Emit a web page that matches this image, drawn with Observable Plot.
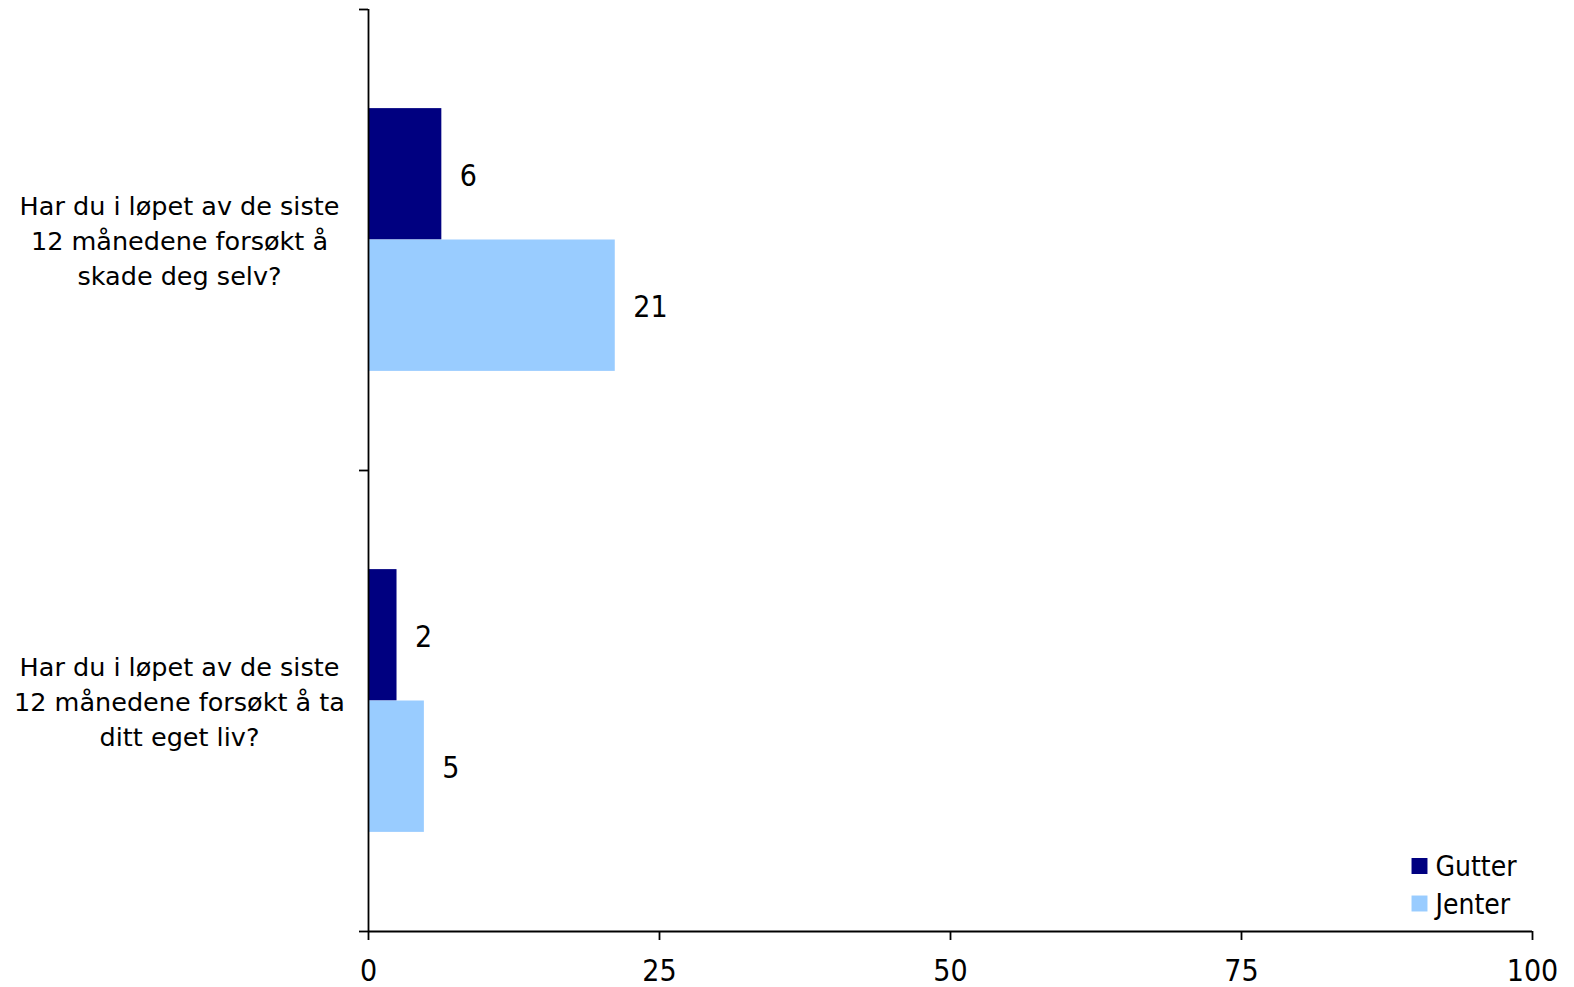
<!DOCTYPE html>
<html>
<head>
<meta charset="utf-8">
<script src="https://cdn.jsdelivr.net/npm/d3@7"></script>
<script src="https://cdn.jsdelivr.net/npm/@observablehq/plot@0.6"></script>
<style>
  html, body { margin: 0; padding: 0; background: #fff; }
  #chart svg { display: block; }
</style>
</head>
<body>
<div id="chart"></div>
<script>
// ---- data ----
const questions = [
  "Har du i løpet av de siste\n12 månedene forsøkt å\nskade deg selv?",
  "Har du i løpet av de siste\n12 månedene forsøkt å ta\nditt eget liv?"
];
const series = ["Gutter", "Jenter"];
const gutter = [6.3, 2.45];
const jenter = [21.2, 4.8];
const xTicks = [0, 25, 50, 75, 100];
const colors = ["#000080", "#99CCFF"];

// ---- table built from arrays ----
const values = [gutter, jenter];
const rows = [];
questions.forEach((q, qi) => {
  series.forEach((s, si) => {
    rows.push({question: q, qi, series: s, si, value: values[si][qi]});
  });
});
// bar layout within each category band (unit height)
const groupTop = 0.215, groupMid = 0.5, groupBot = 0.785;
const y1 = d => d.qi + (d.si === 0 ? groupTop : groupMid);
const y2 = d => d.qi + (d.si === 0 ? groupMid : groupBot);
const yc = d => (y1(d) + y2(d)) / 2;

const labelFont = "DejaVu Sans, Verdana, sans-serif";
const numFont = "'Liberation Sans Narrow', 'DejaVu Sans Condensed', sans-serif";
const legendFont = "'DejaVu Sans Condensed', sans-serif";

const legendMarks = series.flatMap((s, i) => [
  Plot.dot([s], {
    frameAnchor: "bottom-right", dx: -113, dy: -65.5 + i * 37.5,
    symbol: "square", r: 9, fill: d => d, stroke: null
  }),
  Plot.text([s], {
    frameAnchor: "bottom-right", dx: -97, dy: -64 + i * 37.5,
    text: d => d, textAnchor: "start", lineAnchor: "middle",
    fontSize: 28, fontFamily: legendFont, fill: "#000"
  })
]);

const chart = Plot.plot({
  width: 1574,
  height: 987,
  marginLeft: 368,
  marginRight: 42,
  marginTop: 9,
  marginBottom: 56,
  style: {background: "#fff", color: "#000"},
  x: {domain: [0, 100]},
  y: {domain: [0, questions.length], reverse: true},
  color: {domain: series, range: colors},
  marks: [
    Plot.rect(rows, {x1: () => 0, x2: "value", y1, y2, fill: "series"}),
    Plot.text(rows, {
      x: "value", y: yc, text: d => d3.format(".0f")(d.value),
      dx: 18, dy: 2, textAnchor: "start", fontSize: 30, fontFamily: numFont, fill: "#000"
    }),
    Plot.text(questions, {
      x: () => 0, y: (d, i) => i + 0.5, text: d => d,
      dx: -189, dy: -1, textAnchor: "middle", lineAnchor: "middle",
      fontSize: 25.5, lineHeight: 1.37, fontFamily: labelFont, fill: "#000"
    }),
    Plot.axisY({ticks: [0, 1, 2], tickFormat: () => "", tickSize: 9, stroke: "#000", strokeWidth: 1.8, label: null}),
    Plot.ruleX([0], {stroke: "#000", strokeWidth: 1.8}),
    Plot.axisX({
      ticks: xTicks, tickSize: 9, tickPadding: 19, tickFormat: d3.format("d"),
      fontSize: 30, fontFamily: numFont, stroke: "#000", strokeWidth: 1.8, label: null
    }),
    Plot.ruleY([questions.length], {stroke: "#000", strokeWidth: 1.8}),
    ...legendMarks
  ]
});
document.getElementById("chart").append(chart);
</script>
</body>
</html>
